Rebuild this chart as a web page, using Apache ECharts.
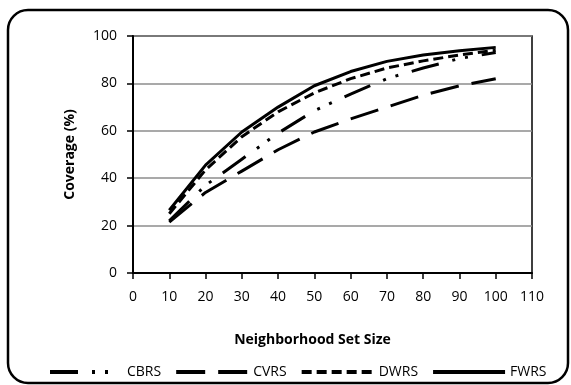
<!DOCTYPE html>
<html>
<head>
<meta charset="utf-8">
<title>Coverage vs Neighborhood Set Size</title>
<script src="https://cdn.jsdelivr.net/npm/echarts@6/dist/echarts.min.js"></script>
<style>
  html, body { margin: 0; padding: 0; background: #fff; }
  #chart { width: 571px; height: 385px; }
</style>
</head>
<body>
<div id="chart"></div>
<script>
  // neighborhood set sizes
  var setSize = [10, 20, 30, 40, 50, 60, 70, 80, 90, 100];
  // coverage (%) for each method
  var cbrs = [22, 37, 48, 59, 68.5, 75.5, 82, 86.5, 90.5, 93];
  var cvrs = [21.5, 34, 43, 52, 59.5, 65, 70, 75, 79, 82];
  var dwrs = [25, 43.5, 57.5, 68, 76, 82, 86.5, 89.5, 92, 94];
  var fwrs = [26.5, 45.5, 59.5, 70, 79, 85, 89.3, 92, 93.8, 95.2];
  var names = ['CBRS', 'CVRS', 'DWRS', 'FWRS'];

  function pairs(ys) {
    var out = [];
    for (var i = 0; i < setSize.length; i++) {
      out.push([setSize[i], ys[i]]);
    }
    return out;
  }

  function line(name, ys, dash) {
    return {
      name: name,
      type: 'line',
      data: pairs(ys),
      symbol: 'none',
      smooth: false,
      lineStyle: { color: '#000', width: 3, type: dash },
      itemStyle: { color: '#000' }
    };
  }

  var font = '"Open Sans", sans-serif';
  var chart = echarts.init(document.getElementById('chart'));
  chart.setOption({
    animation: false,
    textStyle: { fontFamily: font, color: '#000' },
    graphic: [{
      type: 'rect',
      shape: { x: 8, y: 10, width: 560, height: 373, r: 20 },
      style: { fill: 'none', stroke: '#000', lineWidth: 2.5 },
      silent: true
    }],
    grid: {
      left: 133, right: 39, top: 36, bottom: 112,
      show: true, borderColor: '#000', borderWidth: 1.5
    },
    legend: {
      data: names,
      left: 48, top: 365, padding: 0,
      itemWidth: 72, itemHeight: 14, itemGap: 13,
      itemStyle: { opacity: 0 },
      lineStyle: { width: 4 },
      textStyle: { fontSize: 14, color: '#000', fontFamily: font }
    },
    xAxis: {
      type: 'value', min: 0, max: 110, interval: 10,
      name: 'Neighborhood Set Size',
      nameLocation: 'middle', nameGap: 60,
      nameTextStyle: { fontSize: 14, fontWeight: 'bold', color: '#000', padding: [0, 40, 0, 0] },
      axisLine: { show: true, lineStyle: { color: '#000', width: 2 } },
      axisTick: { show: true, length: 6, lineStyle: { color: '#000', width: 1.5 } },
      axisLabel: { fontSize: 14, color: '#000', margin: 17 },
      splitLine: { show: false }
    },
    yAxis: {
      type: 'value', min: 0, max: 100, interval: 20,
      name: 'Coverage (%)',
      nameLocation: 'middle', nameGap: 56, nameRotate: 90,
      nameTextStyle: { fontSize: 14, fontWeight: 'bold', color: '#000' },
      axisLine: { show: true, lineStyle: { color: '#000', width: 2 } },
      axisTick: { show: true, length: 6, lineStyle: { color: '#000', width: 1.5 } },
      axisLabel: { fontSize: 14, color: '#000', margin: 16 },
      splitLine: { show: true, lineStyle: { color: '#8c8c8c', width: 1.5 } }
    },
    series: [
      line('CBRS', cbrs, [28, 14, 3, 10, 3, 14]),
      line('CVRS', cvrs, [29, 13]),
      line('DWRS', dwrs, [10, 5]),
      line('FWRS', fwrs, 'solid')
    ]
  });
</script>
</body>
</html>
